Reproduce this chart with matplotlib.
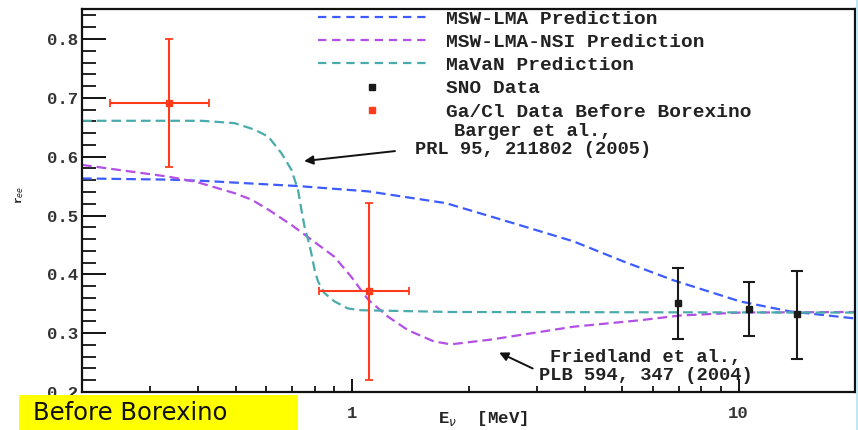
import matplotlib
matplotlib.use("Agg")
import matplotlib.pyplot as plt
from matplotlib.lines import Line2D
from matplotlib.patches import Rectangle
from matplotlib.ticker import FixedLocator, NullFormatter, FixedFormatter

plt.rcParams['lines.scale_dashes'] = False

# ---- data ----
lma_E = [0.2, 0.335, 0.408, 0.726, 1.10, 1.748, 2.52, 3.74, 5.03, 6.77, 10.08, 13.57, 20.0]
lma_r = [0.563, 0.561, 0.559, 0.550, 0.541, 0.521, 0.490, 0.456, 0.422, 0.390, 0.354, 0.337, 0.325]

nsi_E = [0.2, 0.335, 0.396, 0.496, 0.549, 0.607, 0.70, 0.784, 0.899, 0.994, 1.10, 1.238,
         1.395, 1.627, 1.80, 2.28, 3.74, 5.57, 7.05, 10.08, 20.0]
nsi_r = [0.586, 0.566, 0.557, 0.538, 0.527, 0.510, 0.483, 0.459, 0.430, 0.396, 0.357, 0.328,
         0.305, 0.286, 0.281, 0.289, 0.311, 0.322, 0.330, 0.335, 0.336]

mavan_E = [0.2, 0.408, 0.496, 0.559, 0.607, 0.656, 0.696, 0.724, 0.739, 0.753, 0.769, 0.784,
           0.800, 0.816, 0.848, 0.900, 0.975, 1.055, 1.80, 20.0]
mavan_r = [0.661, 0.661, 0.657, 0.646, 0.634, 0.606, 0.578, 0.544, 0.510, 0.481, 0.459, 0.436,
           0.407, 0.388, 0.368, 0.354, 0.342, 0.339, 0.336, 0.335]

sno_E = [6.97, 10.66, 14.12]
sno_r = [0.351, 0.341, 0.332]
sno_lo = [0.290, 0.296, 0.256]
sno_hi = [0.410, 0.387, 0.406]

gacl_E = [0.335, 1.104]
gacl_r = [0.692, 0.371]
gacl_rlo = [0.582, 0.220]
gacl_rhi = [0.800, 0.521]
gacl_Elo = [0.2365, 0.823]
gacl_Ehi = [0.426, 1.405]

labels = ["MSW-LMA Prediction", "MSW-LMA-NSI Prediction", "MaVaN Prediction",
          "SNO Data", "Ga/Cl Data Before Borexino"]
yticks = [0.2, 0.3, 0.4, 0.5, 0.6, 0.7, 0.8]
xticks = [1, 10]

C_BLUE = '#3d5cff'
C_PURP = '#b350e6'
C_TEAL = '#4aabab'
C_RED = '#ff3b1c'
MONO = 'Liberation Mono'

W, H = 858, 430
fig = plt.figure(figsize=(W / 100, H / 100), dpi=100)
fig.patch.set_facecolor('white')
ax = fig.add_axes([82 / W, 1 - 392 / H, (855 - 82) / W, (392 - 9) / H])

dash = (7, 3.6)
ax.plot(lma_E, lma_r, color=C_BLUE, lw=1.6, dashes=dash)
ax.plot(nsi_E, nsi_r, color=C_PURP, lw=1.6, dashes=dash)
ax.plot(mavan_E, mavan_r, color=C_TEAL, lw=1.6, dashes=dash)

sno_err = [[r - l for r, l in zip(sno_r, sno_lo)], [h - r for r, h in zip(sno_r, sno_hi)]]
ax.errorbar(sno_E, sno_r, yerr=sno_err, fmt='s', color='#1a1a1a', ms=5, lw=1.5,
            capsize=4, capthick=1.5)

g_yerr = [[r - l for r, l in zip(gacl_r, gacl_rlo)], [h - r for r, h in zip(gacl_r, gacl_rhi)]]
g_xerr = [[e - l for e, l in zip(gacl_E, gacl_Elo)], [h - e for e, h in zip(gacl_E, gacl_Ehi)]]
ax.errorbar(gacl_E, gacl_r, yerr=g_yerr, xerr=g_xerr, fmt='s', color=C_RED, ms=4.5, lw=1.5,
            capsize=3, capthick=1.3)

ax.set_xscale('log')
ax.set_xlim(0.2, 20)
ax.set_ylim(0.2, 0.851)

ax.xaxis.set_major_locator(FixedLocator(xticks))
ax.xaxis.set_major_formatter(FixedFormatter([str(t) for t in xticks]))
minors = [0.2, 0.3, 0.4, 0.5, 0.6, 0.7, 0.8, 0.9, 2, 3, 4, 5, 6, 7, 8, 9, 20]
ax.xaxis.set_minor_locator(FixedLocator(minors))
ax.xaxis.set_minor_formatter(NullFormatter())
ax.yaxis.set_major_locator(FixedLocator(yticks))
ax.yaxis.set_major_formatter(FixedFormatter([f"{t:.1f}" for t in yticks]))
ax.yaxis.set_minor_locator(FixedLocator([0.2 + 0.02 * i for i in range(33)]))

ax.tick_params(axis='y', which='major', direction='in', length=17, width=1.3, pad=3,
               right=False, labelsize=12.5)
ax.tick_params(axis='y', which='minor', direction='in', length=10, width=1.2, right=False)
ax.tick_params(axis='x', which='major', direction='in', length=9.5, width=1.3, pad=10,
               top=False, labelsize=12.5)
ax.tick_params(axis='x', which='minor', direction='in', length=4.5, width=1.2, top=False)
for lab in ax.get_xticklabels() + ax.get_yticklabels():
    lab.set_fontfamily(MONO)
    lab.set_fontweight('bold')
    lab.set_color('#333333')
for s in ax.spines.values():
    s.set_linewidth(1.6)
    s.set_color('#111111')

# legend
handles = [
    Line2D([], [], color=C_BLUE, lw=1.6, dashes=(6, 4.2)),
    Line2D([], [], color=C_PURP, lw=1.6, dashes=(6, 4.2)),
    Line2D([], [], color=C_TEAL, lw=1.6, dashes=(6, 4.2)),
    Line2D([], [], color='#1a1a1a', marker='s', ms=4, ls='none'),
    Line2D([], [], color=C_RED, marker='s', ms=4, ls='none'),
]
leg = ax.legend(handles, labels, loc='upper left', bbox_to_anchor=(318 / W, 1 - 10 / H),
                bbox_transform=fig.transFigure, frameon=False, borderpad=0, borderaxespad=0,
                handlelength=5.6, handletextpad=1.0, labelspacing=0.29,
                prop={'family': MONO, 'weight': 'bold', 'size': 14})
for t in leg.get_texts():
    t.set_color('#222222')

# annotations
afont = dict(family=MONO, weight='bold', size=13.5, color='#222222')
ax.text(533 / W, 1 - 140.5 / H, "Barger et al.,\nPRL 95, 211802 (2005)", transform=fig.transFigure,
        ha='center', va='center', linespacing=1.1, **afont)
ax.text(646 / W, 1 - 366.5 / H, "Friedland et al.,\nPLB 594, 347 (2004)", transform=fig.transFigure,
        ha='center', va='center', linespacing=1.12, **afont)
ax.annotate('', xy=(0.739, 0.592), xytext=(1.312, 0.610),
            arrowprops=dict(arrowstyle='-|>', color='#111111', lw=1.4, mutation_scale=13))
ax.annotate('', xy=(2.365, 0.269), xytext=(2.976, 0.238),
            arrowprops=dict(arrowstyle='-|>', color='#111111', lw=1.4, mutation_scale=13))

# axis labels
fig.text(483 / W, 1 - 419 / H, r"E$_\nu$  [MeV]", ha='center', va='center',
         family=MONO, weight='bold', size=12.5, color='#222222')
fig.text(20 / W, 1 - 195 / H, r"r$_{ee}$", ha='center', va='center', rotation=90,
         family=MONO, weight='bold', size=8, color='#222222')

# yellow box
fig.patches.append(Rectangle((19 / W, 0), (298 - 19) / W, (430 - 395) / H,
                             transform=fig.transFigure, facecolor='#ffff00', edgecolor='none',
                             zorder=5))
fig.text(33 / W, 1 - 413 / H, "Before Borexino", ha='left', va='center',
         family='DejaVu Sans', size=17.5, color='#111111', zorder=6)

# light blue edge strip
fig.patches.append(Rectangle((856 / W, 0), 2 / W, 1, transform=fig.transFigure,
                             facecolor='#bfe8f7', edgecolor='none'))

fig.savefig('out.png', dpi=100)
